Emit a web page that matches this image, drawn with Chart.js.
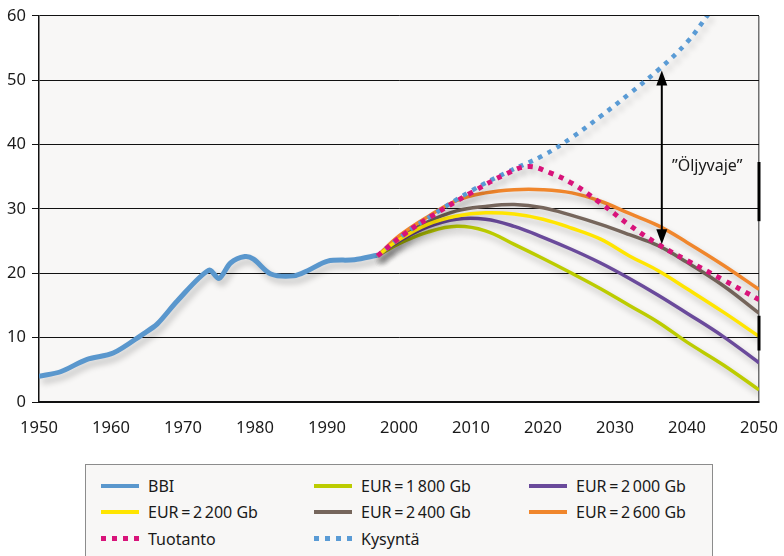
<!DOCTYPE html>
<html>
<head>
<meta charset="utf-8">
<script src="https://cdn.jsdelivr.net/npm/chart.js@4.4.0/dist/chart.umd.min.js"></script>
<style>
  body { margin: 0; background: #fff; }
  #wrap { position: relative; width: 784px; height: 556px; overflow: hidden; }
  #legend {
    position: absolute; left: 85px; top: 464px; width: 626px; height: 130px;
    border: 1.5px solid #8c8c8c; background: #f8f7f6;
    font-family: "Noto Sans", sans-serif; font-size: 16px; color: #1a1a1a;
  }
  .item { position: absolute; display: flex; align-items: center; height: 26px; line-height: 26px; white-space: nowrap; }
  .swatch { display: inline-block; width: 38px; height: 4.5px; margin-right: 9px; }
</style>
</head>
<body>
<div id="wrap">
  <canvas id="oil-chart" width="784" height="556"></canvas>
  <div id="legend"></div>
</div>
<script>
const ctx = document.getElementById("oil-chart").getContext("2d");

// historical production 1950-1997
const bbiYears = [1950, 1953, 1956.6, 1960.3, 1964.5, 1966.4, 1969.2, 1973.6, 1975, 1976.6, 1978.6, 1979.8, 1982.2, 1985.4, 1987.3, 1990.1, 1993.8, 1997];
const bbiValues = [4.0, 4.7, 6.6, 7.6, 10.6, 12.1, 15.7, 20.5, 19.2, 21.6, 22.6, 22.2, 19.9, 19.6, 20.4, 21.9, 22.1, 22.8];

// EUR scenarios share one year grid
const scenarioYears = [1997, 2000, 2004, 2008, 2012, 2016, 2020, 2024, 2028, 2032, 2036, 2040, 2045, 2050];
const eur1800 = [22.7, 24.6, 26.4, 27.3, 26.6, 24.5, 22.3, 20.0, 17.6, 15.0, 12.4, 9.3, 5.8, 1.9];
const eur2000 = [22.7, 25.0, 27.2, 28.4, 28.4, 27.3, 25.6, 23.7, 21.6, 19.2, 16.6, 13.8, 10.2, 6.1];
const eur2200 = [22.7, 25.2, 27.6, 28.9, 29.4, 29.2, 28.4, 27.0, 25.3, 22.7, 20.4, 17.6, 14.0, 10.2];
const eur2400 = [22.7, 25.5, 28.0, 29.7, 30.4, 30.7, 30.2, 29.0, 27.6, 26.0, 24.3, 21.7, 18.1, 13.8];
const eur2600 = [22.7, 25.8, 28.8, 31.3, 32.5, 33.0, 33.0, 32.5, 31.2, 29.3, 27.4, 24.8, 21.3, 17.5];

const productionYears = [1997, 2001, 2005, 2010, 2015, 2018, 2021, 2024, 2028, 2032, 2036, 2040, 2045, 2050];
const productionValues = [22.7, 26.3, 29.2, 32.5, 35.5, 36.6, 35.6, 34.0, 30.9, 27.5, 24.5, 22.0, 19.0, 15.9];

const demandYears = [1997, 2001, 2005, 2010, 2015, 2020, 2024, 2028, 2032, 2036, 2040, 2043];
const demandValues = [22.7, 26.3, 29.3, 32.8, 35.7, 38.3, 41.1, 44.4, 47.9, 51.6, 55.9, 60.3];

const yearTicks = [1950, 1960, 1970, 1980, 1990, 2000, 2010, 2020, 2030, 2040, 2050];
const valueTicks = [0, 10, 20, 30, 40, 50, 60];

// gap between demand and production
const gapLabel = "\u201DÖljyvaje\u201D";
const gapYear = 2036.5;
const gapLow = 24.5;
const gapHigh = 51.5;
const edgeMarks = [[37.3, 28.1], [13.4, 8.0]];

const pts = (xs, ys) => xs.map((x, i) => ({ x, y: ys[i] }));
const FONT = "'Noto Sans', sans-serif";

const line = (label, xs, ys, color, width, order, extra) => Object.assign({
  label,
  data: pts(xs, ys),
  borderColor: color,
  backgroundColor: color,
  borderWidth: width,
  pointRadius: 0,
  tension: 0.4,
  fill: false,
  order,
}, extra || {});

const datasets = [
  line("BBI", bbiYears, bbiValues, "#5a97cd", 5, 7, { tension: 0.3 }),
  line("EUR\u2009=\u20091\u202F800 Gb", scenarioYears, eur1800, "#bccc00", 3.5, 6),
  line("EUR\u2009=\u20092\u202F000 Gb", scenarioYears, eur2000, "#6a4a9b", 3.5, 5),
  line("EUR\u2009=\u20092\u202F200 Gb", scenarioYears, eur2200, "#ffe500", 3.5, 2),
  line("EUR\u2009=\u20092\u202F400 Gb", scenarioYears, eur2400, "#76665c", 3.5, 4),
  line("EUR\u2009=\u20092\u202F600 Gb", scenarioYears, eur2600, "#f0862c", 3.5, 3),
  line("Tuotanto", productionYears, productionValues, "#d8137a", 5, 0, { borderDash: [5, 6] }),
  line("Kysyntä", demandYears, demandValues, "#5a9bd5", 4.5, 1, { borderDash: [4.5, 6] }),
];

const plotBackground = {
  id: "plotBackground",
  beforeDraw(chart) {
    const { ctx, chartArea: a } = chart;
    ctx.save();
    ctx.fillStyle = "#f8f7f6";
    ctx.fillRect(a.left, a.top, a.right - a.left, a.bottom - a.top);
    ctx.restore();
  },
};

const lineShadow = {
  id: "lineShadow",
  beforeDatasetDraw(chart) {
    const c = chart.ctx;
    c.save();
    c.shadowColor = "rgba(0,0,0,0.22)";
    c.shadowBlur = 6;
    c.shadowOffsetX = 3;
    c.shadowOffsetY = 5;
  },
  afterDatasetDraw(chart) {
    chart.ctx.restore();
  },
};

const gapArrow = {
  id: "gapArrow",
  afterDatasetsDraw(chart) {
    const { ctx, scales: { x, y }, chartArea: a } = chart;
    const px = x.getPixelForValue(gapYear);
    const top = y.getPixelForValue(gapHigh);
    const bottom = y.getPixelForValue(gapLow);
    ctx.save();
    ctx.strokeStyle = "#000";
    ctx.fillStyle = "#000";
    ctx.lineWidth = 2;
    ctx.beginPath();
    ctx.moveTo(px, top + 10);
    ctx.lineTo(px, bottom - 10);
    ctx.stroke();
    ctx.beginPath();
    ctx.moveTo(px, top);
    ctx.lineTo(px - 5.5, top + 15);
    ctx.lineTo(px + 5.5, top + 15);
    ctx.closePath();
    ctx.fill();
    ctx.beginPath();
    ctx.moveTo(px, bottom);
    ctx.lineTo(px - 5.5, bottom - 15);
    ctx.lineTo(px + 5.5, bottom - 15);
    ctx.closePath();
    ctx.fill();

    ctx.font = "16px " + FONT;
    ctx.fillStyle = "#1a1a1a";
    ctx.textAlign = "center";
    ctx.textBaseline = "middle";
    ctx.fillText(gapLabel, x.getPixelForValue(2042.8), y.getPixelForValue(36.6));

    // heavy marks on the right frame
    ctx.lineWidth = 3;
    edgeMarks.forEach(([from, to]) => {
      ctx.beginPath();
      ctx.moveTo(a.right, y.getPixelForValue(from));
      ctx.lineTo(a.right, y.getPixelForValue(to));
      ctx.stroke();
    });
    ctx.restore();
  },
};

const legendCols = [15, 228, 443];
const legendRows = [8, 34, 60.5];

const htmlLegend = {
  id: "htmlLegend",
  afterUpdate(chart) {
    const box = document.getElementById("legend");
    box.innerHTML = "";
    chart.data.datasets.forEach((ds, i) => {
      const item = document.createElement("div");
      item.className = "item";
      item.style.left = legendCols[i % 3] + "px";
      item.style.top = legendRows[Math.floor(i / 3)] + "px";
      const sw = document.createElement("span");
      sw.className = "swatch";
      sw.style.background = ds.borderDash
        ? `repeating-linear-gradient(90deg, ${ds.borderColor} 0 5px, transparent 5px 11px)`
        : ds.borderColor;
      const txt = document.createElement("span");
      txt.textContent = ds.label;
      item.appendChild(sw);
      item.appendChild(txt);
      box.appendChild(item);
    });
  },
};

new Chart(ctx, {
  type: "line",
  data: { datasets },
  plugins: [plotBackground, lineShadow, gapArrow, htmlLegend],
  options: {
    responsive: false,
    animation: false,
    layout: { padding: { left: 0, right: 25, top: 13, bottom: 0 } },
    plugins: { legend: { display: false }, tooltip: { enabled: false } },
    scales: {
      x: {
        type: "linear",
        min: 1950,
        max: 2050,
        afterBuildTicks: (s) => { s.ticks = yearTicks.map((v) => ({ value: v })); },
        afterFit: (s) => {
          s.height = 154;
          s.paddingLeft = 0;
          s.paddingRight = 0;
        },
        ticks: {
          callback: (v) => String(v),
          font: { family: FONT, size: 16.5 },
          color: "#1a1a1a",
          padding: 16,
          maxRotation: 0,
        },
        grid: {
          drawTicks: false,
          color: (c) => (c.tick && c.tick.value === 2050 ? "#707070" : "transparent"),
          lineWidth: 1.5,
        },
        border: { color: "#111", width: 2 },
      },
      y: {
        min: 0,
        max: 60,
        afterBuildTicks: (s) => { s.ticks = valueTicks.map((v) => ({ value: v })); },
        afterFit: (s) => { s.width = 39; },
        ticks: {
          font: { family: FONT, size: 16.5 },
          color: "#1a1a1a",
          padding: 6,
        },
        grid: { color: "#111", lineWidth: 1, tickLength: 7, tickColor: "#111" },
        border: { color: "#111", width: 1.5 },
      },
    },
  },
});
</script>
</body>
</html>
